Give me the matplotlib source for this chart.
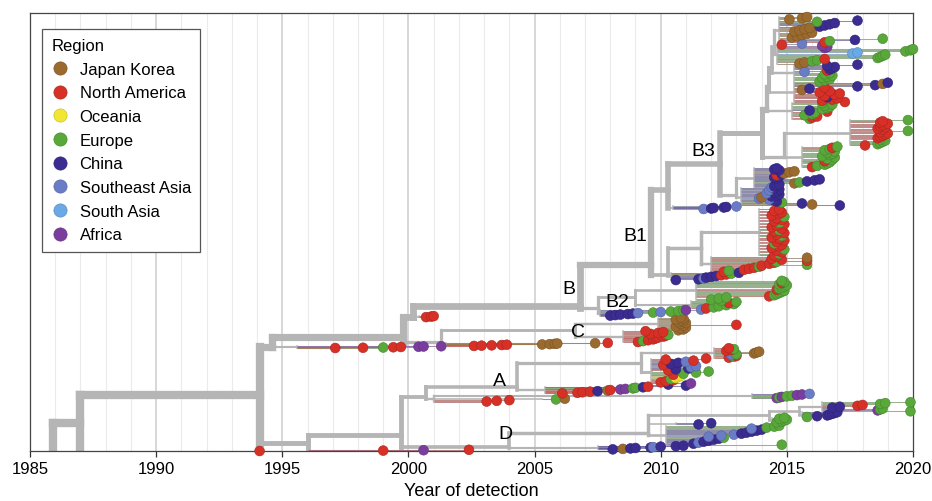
import matplotlib
matplotlib.use('Agg')
import matplotlib.pyplot as plt
from matplotlib.collections import LineCollection
from matplotlib.lines import Line2D
import numpy as np

plt.rcParams['font.family'] = ['Liberation Sans', 'DejaVu Sans']

regions = ['Japan Korea', 'North America', 'Oceania', 'Europe', 'China',
           'Southeast Asia', 'South Asia', 'Africa']
region_codes = ['J', 'N', 'O', 'E', 'C', 'S', 'A', 'F']
region_colors = ['#9b6a2e', '#d63027', '#f1e631', '#58a83a', '#3b2c91',
                 '#6a7cc6', '#6aa9e6', '#7a3d9e']

# tree: (node, parent, year); children are listed bottom to top
nodes = [
    ('root', None, 1985.9),
    ('bas1', 'root', 1985.9),
    ('n87', 'root', 1987.0),
    ('bas2', 'n87', 1987.0),
    ('n94', 'n87', 1994.1),
    ('nAD', 'n94', 1996.0),
    ('bas3', 'nAD', 1996.0),
    ('nAD2', 'nAD', 1999.7),
    ('nD', 'nAD2', 2004.0),
    ('D1', 'nD', 2007.5),
    ('nD2', 'nD', 2009.5),
    ('D2', 'nD2', 2010.2),
    ('D3', 'nD2', 2010.6),
    ('nD3', 'nD2', 2014.3),
    ('D4', 'nD3', 2014.4),
    ('nD4', 'nD3', 2015.5),
    ('D5', 'nD4', 2015.6),
    ('D6', 'nD4', 2016.4),
    ('nA', 'nAD2', 2000.7),
    ('nA1', 'nA', 2001.0),
    ('A1', 'nA1', 2001.0),
    ('A2', 'nA1', 2005.3),
    ('A3', 'nA1', 2013.6),
    ('nA2', 'nA', 2004.3),
    ('A4', 'nA2', 2005.4),
    ('nA3', 'nA2', 2009.2),
    ('A5', 'nA3', 2009.6),
    ('A6', 'nA3', 2012.1),
    ('nBC0', 'n94', 1994.6),
    ('C1', 'nBC0', 1995.6),
    ('nBC', 'nBC0', 1999.8),
    ('nC', 'nBC', 2001.3),
    ('C2', 'nC', 2001.5),
    ('nC2', 'nC', 2006.6),
    ('C3', 'nC2', 2008.5),
    ('C4', 'nC2', 2009.9),
    ('nB0', 'nBC', 2000.2),
    ('B0', 'nB0', 2000.4),
    ('nB', 'nB0', 2006.8),
    ('nB2', 'nB', 2007.5),
    ('B2a', 'nB2', 2007.6),
    ('nB2b', 'nB2', 2009.0),
    ('B2b', 'nB2b', 2011.2),
    ('B2c', 'nB2b', 2011.4),
    ('nB1', 'nB', 2009.6),
    ('nB1a', 'nB1', 2010.3),
    ('B1a', 'nB1a', 2010.4),
    ('nB1b', 'nB1a', 2011.6),
    ('B1b', 'nB1b', 2012.0),
    ('B1c', 'nB1b', 2013.9),
    ('nB1u', 'nB1', 2010.3),
    ('B3c0', 'nB1u', 2010.5),
    ('nB3', 'nB1u', 2012.35),
    ('nB3c', 'nB3', 2013.0),
    ('B3a', 'nB3c', 2013.2),
    ('B3b', 'nB3c', 2013.7),
    ('nB3t', 'nB3', 2014.0),
    ('nR', 'nB3t', 2014.9),
    ('R1', 'nR', 2015.6),
    ('R2', 'nR', 2017.5),
    ('nU', 'nB3t', 2014.2),
    ('U1', 'nU', 2015.2),
    ('nU2', 'nU', 2014.3),
    ('U2', 'nU2', 2015.3),
    ('nU3', 'nU2', 2014.4),
    ('U3', 'nU3', 2015.3),
    ('nU4', 'nU3', 2014.5),
    ('U4', 'nU4', 2014.6),
    ('U5', 'nU4', 2014.7),
]

# tips per cluster: (year of detection, region code), bottom to top
bas1 = [(1994.1, 'N')]
bas2 = [(1999.0, 'N')]
bas3 = [(2000.6, 'F'), (2002.4, 'N')]
D1 = [(2008.1, 'C'), (2008.5, 'J'), (2008.8, 'C'), (2009.0, 'C'), (2009.6, 'C'),
      (2009.7, 'S'), (2010.0, 'C'), (2010.6, 'C'), (2010.9, 'C')]
D2 = [(2014.8, 'E'), (2011.3, 'C'), (2011.5, 'S'), (2011.7, 'C'), (2011.9, 'C'),
      (2012.1, 'C'), (2012.3, 'C'), (2012.5, 'E'), (2011.9, 'S'), (2012.4, 'S'),
      (2012.9, 'S'), (2013.2, 'C'), (2013.4, 'C'), (2013.6, 'C'), (2013.8, 'C'),
      (2014.0, 'C'), (2013.6, 'S'), (2014.2, 'E'), (2014.5, 'E'), (2014.7, 'E')]
D3 = [(2011.5, 'C'), (2012.0, 'C')]
D4 = [(2014.6, 'E'), (2014.8, 'E'), (2014.9, 'E'), (2015.0, 'E'), (2014.7, 'E'),
      (2014.9, 'E')]
D5 = [(2015.8, 'E'), (2016.2, 'C'), (2016.6, 'C'), (2016.7, 'C'), (2016.8, 'C'),
      (2016.9, 'C'), (2017.0, 'C')]
D6 = [(2019.9, 'E'), (2018.6, 'F'), (2018.7, 'E'), (2018.8, 'E'), (2016.8, 'C'),
      (2017.1, 'C'), (2017.8, 'N'), (2018.0, 'N'), (2018.7, 'E'), (2018.9, 'E'),
      (2019.9, 'E')]
A1 = [(2003.1, 'N'), (2003.5, 'N'), (2004.0, 'N')]
A2 = [(2005.85, 'E'), (2006.2, 'J')]
A3 = [(2014.6, 'F'), (2014.7, 'E'), (2014.8, 'F'), (2015.0, 'E'), (2015.2, 'E'),
      (2015.4, 'F'), (2015.6, 'F'), (2015.9, 'S')]
A4 = [(2006.1, 'N'), (2006.7, 'N'), (2006.9, 'N'), (2007.2, 'N'), (2007.5, 'C'),
      (2007.9, 'J'), (2008.0, 'N'), (2008.4, 'F'), (2008.6, 'F'), (2008.9, 'E'),
      (2009.0, 'E'), (2009.3, 'C'), (2009.5, 'N')]
A5 = [(2011.0, 'C'), (2010.3, 'C'), (2011.2, 'F'), (2010.0, 'N'), (2010.2, 'N'),
      (2010.5, 'N'), (2010.4, 'E'), (2010.6, 'O'), (2010.7, 'O'), (2010.8, 'O'),
      (2010.5, 'N'), (2010.9, 'E'), (2011.4, 'E'), (2011.9, 'E'), (2010.3, 'N'),
      (2010.6, 'C'), (2011.1, 'C'), (2011.2, 'S'), (2011.4, 'S'), (2010.1, 'N'),
      (2010.4, 'C'), (2010.7, 'C'), (2011.0, 'S'), (2011.3, 'N'), (2010.2, 'N'),
      (2011.8, 'N')]
A6 = [(2012.7, 'N'), (2012.9, 'E'), (2013.0, 'N'), (2012.8, 'S'), (2013.0, 'E'),
      (2013.7, 'J'), (2013.8, 'J'), (2013.9, 'J'), (2012.6, 'N'), (2012.8, 'N'),
      (2012.9, 'E'), (2012.7, 'N')]
C1 = [(1997.1, 'N'), (1998.2, 'N'), (1999.0, 'E'), (1999.4, 'N'), (1999.7, 'N'),
      (2000.4, 'F'), (2000.6, 'F'), (2001.3, 'F')]
C2 = [(2002.6, 'N'), (2002.9, 'N'), (2003.3, 'N'), (2003.7, 'N'), (2003.9, 'N'),
      (2005.3, 'J'), (2005.6, 'J'), (2005.8, 'J'), (2005.9, 'J'), (2007.4, 'J'),
      (2007.9, 'N')]
C3 = [(2009.1, 'N'), (2009.3, 'E'), (2009.5, 'N'), (2009.7, 'N'), (2009.8, 'N'),
      (2009.9, 'N'), (2010.1, 'N'), (2010.2, 'N'), (2010.3, 'E'), (2009.6, 'N'),
      (2009.9, 'N'), (2010.1, 'N'), (2009.4, 'N')]
C4 = [(2010.7, 'J'), (2010.9, 'J'), (2010.8, 'J'), (2011.0, 'J'), (2010.6, 'J'),
      (2010.9, 'J'), (2013.0, 'N'), (2010.8, 'J'), (2011.0, 'J'), (2010.7, 'J'),
      (2010.9, 'J'), (2010.8, 'J'), (2010.6, 'J'), (2010.9, 'J'), (2010.8, 'J')]
B0 = [(2000.7, 'N'), (2000.9, 'N'), (2001.0, 'N')]
B2a = [(2008.0, 'C'), (2008.2, 'C'), (2008.4, 'C'), (2008.7, 'C'), (2008.9, 'C'),
       (2009.1, 'S'), (2009.7, 'E'), (2010.0, 'S'), (2010.4, 'E'), (2010.7, 'E'),
       (2010.9, 'E'), (2011.0, 'F'), (2011.6, 'S')]
B2b = [(2011.8, 'N'), (2012.1, 'E'), (2012.3, 'E'), (2012.6, 'E'), (2012.9, 'E'),
       (2012.7, 'N'), (2013.0, 'E'), (2012.4, 'E')]
B2c = [(2012.0, 'E'), (2012.3, 'E'), (2012.6, 'E'), (2014.3, 'N'), (2014.5, 'E'),
       (2014.6, 'E'), (2014.7, 'E'), (2014.8, 'E'), (2014.9, 'E'), (2014.6, 'N'),
       (2014.7, 'E'), (2014.8, 'E'), (2014.9, 'E'), (2015.0, 'E'), (2014.7, 'E'),
       (2014.8, 'N'), (2014.9, 'E'), (2014.8, 'E')]
B1a = [(2010.6, 'C'), (2011.5, 'C'), (2011.7, 'S'), (2011.8, 'C'), (2012.0, 'C'),
       (2012.2, 'C'), (2012.4, 'N'), (2012.6, 'N'), (2012.8, 'E'), (2013.1, 'C')]
B1b = [(2012.5, 'N'), (2012.7, 'E'), (2013.3, 'N'), (2013.5, 'N'), (2013.7, 'N'),
       (2013.9, 'E'), (2014.0, 'N'), (2015.8, 'E'), (2014.3, 'N'), (2014.5, 'N'),
       (2014.6, 'E'), (2015.8, 'N'), (2014.8, 'N'), (2014.4, 'N'), (2015.8, 'J'),
       (2014.6, 'N')]
B1c = [(2014.5, 'N'), (2014.7, 'E'), (2014.8, 'N'), (2014.6, 'N'), (2014.9, 'E'),
       (2014.4, 'N'), (2014.7, 'N'), (2014.8, 'N'), (2014.5, 'E'), (2014.6, 'N'),
       (2014.9, 'N'), (2014.7, 'N'), (2014.4, 'N'), (2014.8, 'E'), (2014.6, 'N'),
       (2014.9, 'N'), (2014.5, 'N'), (2014.7, 'E'), (2014.8, 'N'), (2014.4, 'N'),
       (2014.6, 'N'), (2014.9, 'N'), (2014.7, 'E'), (2014.5, 'N'), (2014.8, 'N'),
       (2014.6, 'N'), (2014.9, 'E'), (2014.4, 'N'), (2014.7, 'N'), (2014.8, 'N'),
       (2014.5, 'N'), (2014.7, 'N')]
B3c0 = [(2011.7, 'S'), (2012.0, 'C'), (2012.1, 'C'), (2012.5, 'C'), (2012.6, 'C'),
        (2013.0, 'S')]
B3a = [(2017.1, 'C'), (2016.0, 'J'), (2015.6, 'C'), (2014.8, 'E'), (2014.6, 'C'),
       (2014.5, 'C'), (2014.3, 'S'), (2013.9, 'S'), (2014.0, 'J'), (2014.4, 'C'),
       (2014.6, 'C'), (2014.7, 'C'), (2014.2, 'S'), (2014.5, 'C'), (2014.6, 'C'),
       (2014.3, 'S'), (2014.7, 'C'), (2014.5, 'C')]
B3b = [(2014.4, 'S'), (2014.5, 'C'), (2014.6, 'C'), (2014.7, 'C'), (2015.3, 'J'),
       (2015.5, 'E'), (2015.8, 'C'), (2016.1, 'C'), (2016.3, 'C'), (2014.6, 'C'),
       (2014.5, 'C'), (2014.7, 'C'), (2014.6, 'N'), (2014.8, 'C'), (2014.9, 'J'),
       (2015.1, 'J'), (2015.3, 'J'), (2014.7, 'C'), (2014.5, 'C'), (2014.6, 'C')]
R1 = [(2016.0, 'N'), (2016.2, 'E'), (2016.5, 'E'), (2016.6, 'E'), (2016.7, 'E'),
      (2016.5, 'N'), (2016.8, 'E'), (2016.6, 'E'), (2016.9, 'E'), (2016.4, 'E'),
      (2016.7, 'E'), (2016.8, 'E'), (2016.6, 'E'), (2016.9, 'E'), (2016.5, 'E'),
      (2016.7, 'E'), (2016.8, 'N'), (2017.0, 'E')]
R2 = [(2018.1, 'N'), (2018.6, 'E'), (2018.7, 'E'), (2018.8, 'E'), (2018.9, 'E'),
      (2018.7, 'E'), (2018.6, 'N'), (2018.7, 'N'), (2018.8, 'N'), (2018.9, 'N'),
      (2019.0, 'N'), (2018.7, 'N'), (2019.8, 'E'), (2018.8, 'N'), (2018.6, 'N'),
      (2018.9, 'N'), (2018.7, 'N'), (2018.8, 'N'), (2019.0, 'N'), (2018.7, 'N'),
      (2018.8, 'N'), (2019.8, 'E')]
U1 = [(2015.9, 'E'), (2016.0, 'N'), (2016.2, 'N'), (2015.7, 'E'), (2016.0, 'E'),
      (2016.1, 'E'), (2016.6, 'N'), (2015.9, 'C'), (2016.4, 'E'), (2016.6, 'E'),
      (2016.7, 'E'), (2016.5, 'E'), (2016.8, 'E'), (2016.4, 'E')]
U2 = [(2017.3, 'N'), (2016.4, 'N'), (2016.8, 'N'), (2017.0, 'N'), (2016.6, 'C'),
      (2016.5, 'N'), (2016.9, 'N'), (2017.1, 'N'), (2016.3, 'N'), (2016.7, 'N'),
      (2015.6, 'J'), (2015.9, 'C'), (2016.5, 'N'), (2017.8, 'C'), (2018.5, 'C'),
      (2018.8, 'J'), (2019.0, 'C')]
U3 = [(2016.3, 'E'), (2016.5, 'E'), (2016.7, 'E'), (2016.4, 'E'), (2016.6, 'E'),
      (2016.8, 'E'), (2016.5, 'E'), (2016.7, 'E'), (2015.7, 'S'), (2016.6, 'N'),
      (2016.7, 'C'), (2016.8, 'C'), (2016.9, 'C'), (2016.6, 'C'), (2017.8, 'C')]
U4 = [(2015.5, 'J'), (2015.7, 'J'), (2016.0, 'E'), (2016.2, 'E'), (2016.5, 'N'),
      (2018.6, 'E'), (2018.7, 'E'), (2018.8, 'E'), (2018.9, 'E'), (2017.6, 'A'),
      (2017.8, 'A'), (2019.7, 'E'), (2019.9, 'E'), (2020.0, 'E'), (2016.5, 'F'),
      (2016.6, 'F'), (2016.4, 'F'), (2014.8, 'N')]
U5 = [(2015.6, 'S'), (2016.5, 'N'), (2016.7, 'E'), (2017.7, 'C'), (2018.8, 'E'),
      (2015.2, 'J'), (2015.4, 'J'), (2015.6, 'J'), (2015.8, 'J'), (2016.0, 'J'),
      (2015.3, 'J'), (2015.5, 'J'), (2015.7, 'J'), (2015.9, 'J'), (2016.3, 'C'),
      (2016.5, 'C'), (2016.7, 'C'), (2016.9, 'C'), (2016.2, 'E'), (2017.8, 'C'),
      (2015.1, 'J'), (2015.6, 'J'), (2015.8, 'J')]

cluster_tips = {'bas1': bas1, 'bas2': bas2, 'bas3': bas3, 'D1': D1, 'D2': D2,
                'D3': D3, 'D4': D4, 'D5': D5, 'D6': D6, 'A1': A1, 'A2': A2,
                'A3': A3, 'A4': A4, 'A5': A5, 'A6': A6, 'C1': C1, 'C2': C2,
                'C3': C3, 'C4': C4, 'B0': B0, 'B2a': B2a, 'B2b': B2b, 'B2c': B2c,
                'B1a': B1a, 'B1b': B1b, 'B1c': B1c, 'B3c0': B3c0, 'B3a': B3a,
                'B3b': B3b, 'R1': R1, 'R2': R2, 'U1': U1, 'U2': U2, 'U3': U3,
                'U4': U4, 'U5': U5}

# layout only: vertical spacing between neighbouring tips
tip_gap = {'bas1': 0.4, 'bas2': 0.4, 'bas3': 0.4, 'D1': 0.45, 'D2': 1.0,
           'D3': 1.2, 'D4': 0.9, 'D5': 0.8, 'D6': 0.9, 'A1': 0.7, 'A2': 0.7,
           'A3': 0.6, 'A4': 0.55, 'A5': 1.08, 'A6': 0.85, 'C1': 0.25, 'C2': 0.3,
           'C3': 0.9, 'C4': 0.9, 'B0': 0.5, 'B2a': 0.5, 'B2b': 1.1, 'B2c': 1.1,
           'B1a': 0.8, 'B1b': 1.0, 'B1c': 1.47, 'B3c0': 0.5, 'B3a': 1.0,
           'B3b': 1.0, 'R1': 1.2, 'R2': 1.2, 'U1': 1.2, 'U2': 1.2, 'U3': 1.2,
           'U4': 1.1, 'U5': 1.2}
# layout only: where a node sits between its lowest and highest child
node_frac = {'nBC0': 0.0, 'nBC': 0.2, 'nC': 0.15, 'nB0': 0.0, 'nB': 0.05,
             'nB2': 0.3, 'nB1': 0.12, 'nB1a': 0.05, 'nB1u': 0.4, 'nB3c': 0.1,
             'nR': 0.0, 'nU': 0.1, 'nU2': 0.2, 'nU3': 0.2, 'nU4': 0.3,
             'nAD2': 0.23, 'nD': 0.05, 'nD2': 0.1, 'nA': 0.2, 'nA1': 0.3,
             'nA2': 0.1}

# ---- layout ----
year = {n: y for n, p, y in nodes}
children = {n: [] for n, p, y in nodes}
for n, p, y in nodes:
    if p is not None:
        children[p].append(n)

ypos, ntips, tip_spans = {}, {}, {}
tips_x, tips_y, tips_r, tips_node = [], [], [], []
cursor = None


def layout(n):
    global cursor
    if n in cluster_tips:
        ys = []
        for yr, r in cluster_tips[n]:
            cursor = 0.0 if cursor is None else cursor + tip_gap[n]
            ys.append(cursor)
            tips_x.append(yr)
            tips_y.append(cursor)
            tips_r.append(r)
            tips_node.append(n)
        tip_spans[n] = (min(ys), max(ys))
        ypos[n] = (min(ys) + max(ys)) / 2
        ntips[n] = len(ys)
    else:
        for c in children[n]:
            layout(c)
        cy = [ypos[c] for c in children[n]]
        f = node_frac.get(n, 0.5)
        ypos[n] = min(cy) + f * (max(cy) - min(cy))
        ntips[n] = sum(ntips[c] for c in children[n])


layout('root')
N = ntips['root']


def width(k):
    return 0.8 + 5.2 * np.sqrt(k / N)


col = dict(zip(region_codes, region_colors))
gray = '#b5b5b5'

fig = plt.figure(figsize=(9.32, 5.02), dpi=100)
ax = fig.add_axes([30 / 932, 50 / 502, 883 / 932, 438 / 502])

# year grid
for yr in range(1986, 2020):
    ax.axvline(yr, color='#cdcdcd' if yr % 5 == 0 else '#ebebeb',
               lw=1.1 if yr % 5 == 0 else 0.8, zorder=0)

# internal branches
segs, lws = [], []
for n, p, y in nodes:
    if p is not None:
        segs.append([(year[p], ypos[n]), (year[n], ypos[n])])
        lws.append(width(ntips[n]))
    if children[n]:
        cy = [ypos[c] for c in children[n]]
        segs.append([(year[n], min(cy)), (year[n], max(cy))])
        lws.append(width(ntips[n]))
ax.add_collection(LineCollection(segs, linewidths=lws, colors=gray,
                                 capstyle='projecting', zorder=2))

# cluster combs and terminal branches
vsegs = [[(year[n], tip_spans[n][0]), (year[n], tip_spans[n][1])]
         for n in cluster_tips]
ax.add_collection(LineCollection(vsegs, linewidths=1.1, colors=gray,
                                 capstyle='projecting', zorder=2))
tsegs = [[(year[n], y), (x, y)] for x, y, n in zip(tips_x, tips_y, tips_node)]
ax.add_collection(LineCollection(tsegs, linewidths=0.75, colors=gray, zorder=2))
ax.add_collection(LineCollection(tsegs, linewidths=0.4, alpha=0.55,
                                 colors=[col[r] for r in tips_r], zorder=2.5))

# tips
fc = [col[r] for r in tips_r]
ec = [tuple(np.array(matplotlib.colors.to_rgb(c)) * 0.8) for c in fc]
ax.scatter(tips_x, tips_y, s=50, c=fc, edgecolors=ec, linewidths=0.4,
           zorder=4, clip_on=False)

# clade labels
for lab, fx, fy in [('A', 0.532, 0.162), ('B', 0.610, 0.372), ('B1', 0.686, 0.491),
                    ('B2', 0.665, 0.342), ('B3', 0.762, 0.685), ('C', 0.621, 0.272),
                    ('D', 0.538, 0.041)]:
    ax.text(fx, fy, lab, transform=ax.transAxes, ha='center', va='center',
            fontsize=14, color='black', zorder=5)

ax.set_xlim(1985, 2020)
ax.set_ylim(0, max(tips_y) + 4)
ax.set_xticks(range(1985, 2021, 5))
ax.set_yticks([])
ax.tick_params(axis='x', labelsize=12, length=4, width=0.9, color='#333333')
ax.set_xlabel('Year of detection', fontsize=13, labelpad=4)
for s in ax.spines.values():
    s.set_color('#444444')
    s.set_linewidth(0.9)

handles = [Line2D([], [], ls='none', marker='o', markersize=9.5, markerfacecolor=c,
                  markeredgecolor=tuple(np.array(matplotlib.colors.to_rgb(c)) * 0.85),
                  markeredgewidth=0.5) for c in region_colors]
leg = ax.legend(handles, regions, title='Region', loc='upper left',
                bbox_to_anchor=(0.0136, 0.9635), borderaxespad=0, fontsize=12,
                title_fontsize=12, alignment='left', fancybox=False,
                edgecolor='#555555', framealpha=1, labelspacing=0.52,
                handlelength=1.0, handletextpad=0.7, borderpad=0.55)
leg.get_frame().set_linewidth(0.9)
leg.set_zorder(10)

fig.savefig('out.png', dpi=100)
